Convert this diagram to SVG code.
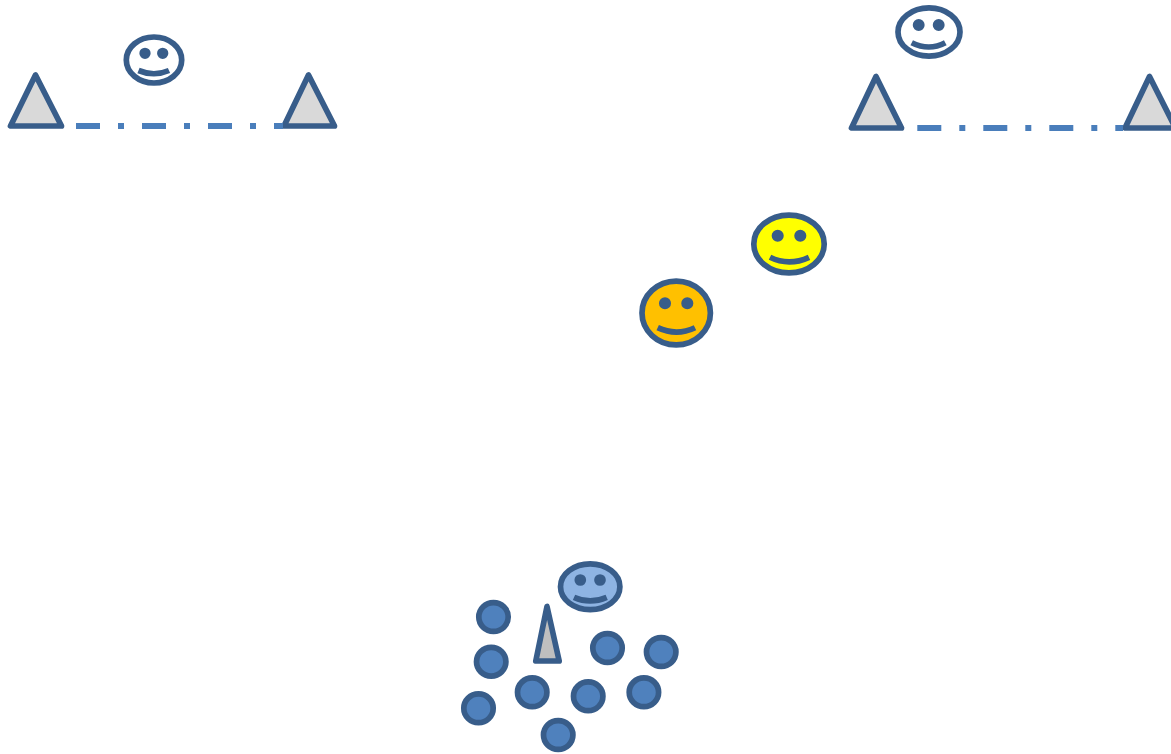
<svg xmlns="http://www.w3.org/2000/svg" width="1171" height="754" viewBox="0 0 1171 754">
<style>
.s{stroke:#385D8A;stroke-width:5.700;stroke-linejoin:round;fill:none}
.tri{fill:#D9D9D9}
.tri2{fill:#BFBFBF}
.dot{fill:#4F81BD}
.eye{stroke-width:5.700}
.link{stroke:#4A7EBB;stroke-width:6;fill:none;stroke-dasharray:24 18 6 18}
</style>
<rect width="1171" height="754" fill="#FFFFFF"/>
<g id="node-triangle-1"><path class="s tri" d="M35.500 75L10.500 126H61.500Z"/></g>
<g id="node-triangle-2"><path class="s tri" d="M308.500 75L284 126H334.500Z"/></g>
<g id="node-triangle-3"><path class="s tri" d="M876 76.500L851.500 128H901.500Z"/></g>
<g id="node-triangle-4"><path class="s tri" d="M1149.500 76.500L1125 128H1175.500Z"/></g>
<g id="connectors">
<path class="link" d="M76 126H283"/>
<path class="link" d="M917.300 128H1123"/>
</g>
<g id="node-face-1">
<ellipse class="s" cx="154" cy="60" rx="27.700" ry="23"/>
<circle class="s eye" style="fill:#385D8A" cx="145" cy="53.300" r="2.800"/>
<circle class="s eye" style="fill:#385D8A" cx="162.700" cy="53.300" r="2.800"/>
<path class="s" d="M138.500 70.500Q154 77 169 70.500"/>
</g>
<g id="node-face-2">
<ellipse class="s" cx="929" cy="32" rx="31" ry="24.200"/>
<circle class="s eye" style="fill:#385D8A" cx="918.700" cy="25" r="3.100"/>
<circle class="s eye" style="fill:#385D8A" cx="938.700" cy="25" r="3.100"/>
<path class="s" d="M911.700 42.700Q929 51.300 945.300 42.700"/>
</g>
<g id="node-face-yellow">
<ellipse class="s" style="fill:#FFFF00" cx="789" cy="244" rx="35.200" ry="28.900"/>
<circle class="s eye" style="fill:#385D8A" cx="777.700" cy="235.700" r="3.200"/>
<circle class="s eye" style="fill:#385D8A" cx="800.300" cy="235.700" r="3.200"/>
<path class="s" d="M770 257.300Q789 266.500 809 257.300"/>
</g>
<g id="node-face-orange">
<ellipse class="s" style="fill:#FFC000" cx="676.200" cy="313" rx="34.200" ry="31.900"/>
<circle class="s eye" style="fill:#385D8A" cx="665" cy="303.300" r="3.200"/>
<circle class="s eye" style="fill:#385D8A" cx="687.300" cy="303.300" r="3.200"/>
<path class="s" d="M657.700 327.700Q676.500 336.500 695 327.700"/>
</g>
<g id="node-face-blue">
<ellipse class="s" style="fill:#8EB4E3" cx="590.200" cy="586.700" rx="29.700" ry="22.900"/>
<circle class="s eye" style="fill:#385D8A" cx="580.300" cy="580" r="3"/>
<circle class="s eye" style="fill:#385D8A" cx="600" cy="580" r="3"/>
<path class="s" d="M574 597.300Q590 604.500 606.700 597.300"/>
</g>
<g id="node-triangle-narrow"><path class="s tri2" d="M547 606.500L535.800 661H559.200Z"/></g>
<g id="node-dot-1"><ellipse class="s dot" cx="493.500" cy="617" rx="14.700" ry="14.400"/></g>
<g id="node-dot-2"><ellipse class="s dot" cx="491.200" cy="661.700" rx="14.700" ry="14.400"/></g>
<g id="node-dot-3"><ellipse class="s dot" cx="478.500" cy="708.300" rx="14.700" ry="14.400"/></g>
<g id="node-dot-4"><ellipse class="s dot" cx="532.200" cy="692.300" rx="14.700" ry="14.400"/></g>
<g id="node-dot-5"><ellipse class="s dot" cx="588.200" cy="696.300" rx="14.700" ry="14.400"/></g>
<g id="node-dot-6"><ellipse class="s dot" cx="558.200" cy="735" rx="14.700" ry="14.400"/></g>
<g id="node-dot-7"><ellipse class="s dot" cx="607.500" cy="648" rx="14.700" ry="14.400"/></g>
<g id="node-dot-8"><ellipse class="s dot" cx="661.200" cy="652" rx="14.700" ry="14.400"/></g>
<g id="node-dot-9"><ellipse class="s dot" cx="643.900" cy="692.300" rx="14.700" ry="14.400"/></g>
</svg>
